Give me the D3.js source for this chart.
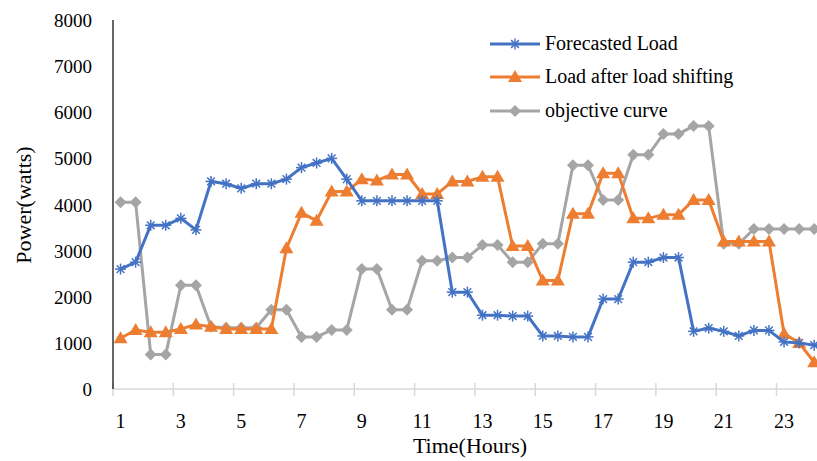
<!DOCTYPE html><html><head><meta charset="utf-8"><script src="https://cdn.jsdelivr.net/npm/d3@7"></script>
<style>body{margin:0;background:#fff}text{font-family:"Liberation Serif","DejaVu Serif",serif}</style></head><body><svg id="c" width="817" height="461"></svg>
<script>
const forecast=[2600,2750,3550,3550,3700,3450,4500,4450,4350,4450,4450,4550,4800,4900,5000,4550,4080,4080,4080,4080,4080,4080,2100,2100,1600,1600,1580,1580,1150,1150,1130,1130,1950,1950,2750,2750,2850,2850,1250,1320,1250,1150,1270,1270,1020,1000,950,900];
const shifted=[1100,1280,1230,1230,1300,1400,1350,1300,1300,1300,1300,3050,3820,3650,4280,4280,4550,4520,4650,4650,4230,4230,4500,4500,4600,4600,3100,3100,2350,2350,3800,3800,4680,4680,3700,3700,3780,3780,4100,4100,3200,3200,3200,3200,1200,1000,580,400];
const objective=[4050,4050,750,750,2250,2250,1350,1330,1330,1330,1720,1720,1130,1130,1280,1280,2600,2600,1720,1720,2780,2780,2850,2850,3120,3120,2750,2750,3150,3150,4850,4850,4100,4100,5080,5080,5530,5530,5700,5700,3150,3150,3470,3470,3470,3470,3470,3470];
const yTicks=[0,1000,2000,3000,4000,5000,6000,7000,8000];
const xLabels=[1,3,5,7,9,11,13,15,17,19,21,23];
const names=["Forecasted Load","Load after load shifting","objective curve"];
const colors=["#4472C4","#ED7D31","#A5A5A5"];
const svg=d3.select("#c");
const x0=113,w=15.08;
const x=d3.scaleLinear().domain([0,48]).range([x0,x0+48*w]);
const y=d3.scaleLinear().domain([0,8000]).range([389,20]);
svg.append("defs").append("clipPath").attr("id","cp").append("rect").attr("x",0).attr("y",0).attr("width",817).attr("height",461);
svg.append("line").attr("x1",x0).attr("x2",817).attr("y1",y(0)).attr("y2",y(0)).attr("stroke","#d9d9d9").attr("stroke-width",1.5);
d3.range(0,48,4).forEach(i=>svg.append("line").attr("x1",x(i)).attr("x2",x(i)).attr("y1",y(0)-6).attr("y2",y(0)+7).attr("stroke","#d9d9d9").attr("stroke-width",1.5));
svg.append("line").attr("x1",x0).attr("x2",x0).attr("y1",y(8000)).attr("y2",y(0)).attr("stroke","#000").attr("stroke-width",1.2);
svg.selectAll(".yt").data(yTicks).enter().append("text").attr("x",92).attr("y",d=>y(d)+7).attr("text-anchor","end").attr("font-size",19).text(d=>d);
svg.selectAll(".xt").data(xLabels).enter().append("text").attr("x",(d,i)=>x(i*4+0.5)).attr("y",428).attr("text-anchor","middle").attr("font-size",20).text(d=>d);
svg.append("text").attr("x",470).attr("y",453).attr("text-anchor","middle").attr("font-size",22).text("Time(Hours)");
svg.append("text").attr("transform","translate(31,205) rotate(-90)").attr("text-anchor","middle").attr("font-size",22).text("Power(watts)");
const series=[forecast,shifted,objective];
const line=d3.line().x((d,i)=>x(i+0.5)).y(d=>y(d));
const g=svg.append("g").attr("clip-path","url(#cp)");
function marker(sel,k){
  if(k===0){const r=5.5;[[0,1],[1,0],[0.7,0.7],[0.7,-0.7]].forEach(([a,b])=>sel.append("line").attr("x1",-r*a).attr("y1",-r*b).attr("x2",r*a).attr("y2",r*b).attr("stroke",colors[0]).attr("stroke-width",1.5));}
  else if(k===1){sel.append("path").attr("d","M0,-7L7,5L-7,5Z").attr("fill",colors[1]);}
  else {sel.append("path").attr("d","M0,-6L6,0L0,6L-6,0Z").attr("fill",colors[2]);}
}
[2,1,0].forEach(k=>{
  g.append("path").datum(series[k]).attr("d",line).attr("fill","none").attr("stroke",colors[k]).attr("stroke-width",3);
  series[k].forEach((v,i)=>{const m=g.append("g").attr("transform",`translate(${x(i+0.5)},${y(v)})`);marker(m,k);});
});
const ly=[44,77,111];
names.forEach((n,k)=>{
  svg.append("line").attr("x1",490).attr("x2",540).attr("y1",ly[k]).attr("y2",ly[k]).attr("stroke",colors[k]).attr("stroke-width",3);
  const m=svg.append("g").attr("transform",`translate(515,${ly[k]})`);marker(m,k);
  svg.append("text").attr("x",545).attr("y",ly[k]+6).attr("font-size",20).text(n);
});
</script></body></html>
